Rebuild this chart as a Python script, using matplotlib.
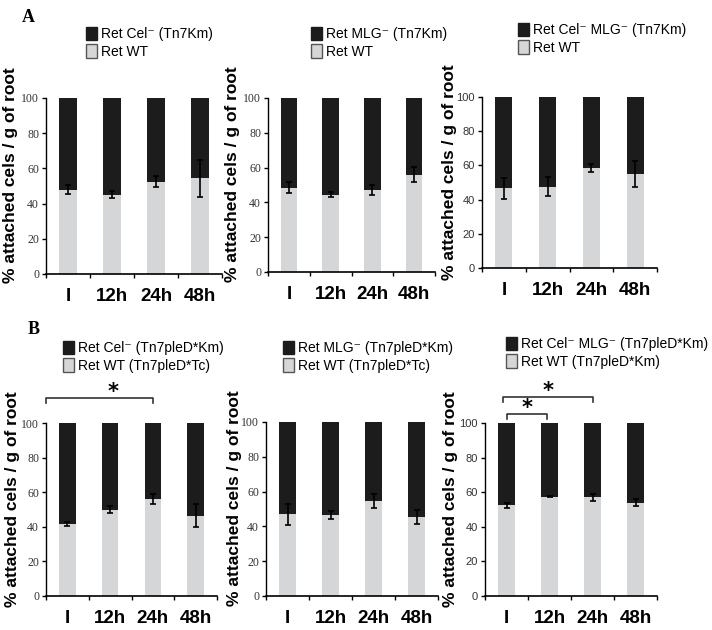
import numpy as np
import matplotlib
matplotlib.use("Agg")
import matplotlib.pyplot as plt
from matplotlib.patches import Patch
from matplotlib.font_manager import FontProperties

# time points
times = ["I", "12h", "24h", "48h"]
yticks = [0, 20, 40, 60, 80, 100]

# % of WT attached cells (light part of each bar) and its error, per panel
wt_a1 = [48, 45, 52.5, 54.5]
err_a1 = [2.5, 2, 3, 10.5]
wt_a2 = [48.5, 44.5, 47, 56]
err_a2 = [3, 1.5, 3, 4.5]
wt_a3 = [46.5, 47.5, 58.5, 55]
err_a3 = [6, 5.5, 2.5, 7.5]
wt_b1 = [41.5, 50, 56, 46.5]
err_b1 = [1, 2, 3, 6.5]
wt_b2 = [47, 46.5, 54.5, 45.5]
err_b2 = [6, 2.5, 4, 4]
wt_b3 = [52.5, 57.5, 57, 54]
err_b3 = [1.5, 0.5, 2, 2]

# legend texts
mut_labels = ["Ret Cel\u207b (Tn7Km)", "Ret MLG\u207b (Tn7Km)", "Ret Cel\u207b MLG\u207b (Tn7Km)",
              "Ret Cel\u207b (Tn7pleD*Km)", "Ret MLG\u207b (Tn7pleD*Km)",
              "Ret Cel\u207b MLG\u207b (Tn7pleD*Km)"]
wt_labels = ["Ret WT", "Ret WT", "Ret WT",
             "Ret WT (Tn7pleD*Tc)", "Ret WT (Tn7pleD*Tc)", "Ret WT (Tn7pleD*Km)"]

DARK = "#1c1c1c"
LIGHT = "#d4d6d8"
W, H = 712, 630
SANS = ["Liberation Sans", "DejaVu Sans"]

fig = plt.figure(figsize=(W / 100, H / 100), dpi=100)

# axes boxes in pixels: left, right, top(y=100), bottom(y=0)
boxes = [(46, 222, 98, 274), (268, 435, 98, 272), (482, 657, 97, 268),
         (46, 217, 423, 596), (266, 438, 422, 596), (485, 657, 423, 596)]
legend_pos = [(86, 27), (311, 27), (518, 23), (63, 341), (283, 341), (506, 337)]
ylabel_x = [18, 240, 457, 20, 242, 458]
wts = [wt_a1, wt_a2, wt_a3, wt_b1, wt_b2, wt_b3]
errs = [err_a1, err_a2, err_a3, err_b1, err_b2, err_b3]

axes = []
for i in range(6):
    l, r, t, b = boxes[i]
    ax = fig.add_axes([l / W, 1 - b / H, (r - l) / W, (b - t) / H])
    axes.append(ax)
    x = np.arange(len(times))
    wt = np.array(wts[i])
    ax.bar(x, wt, width=0.39, color=LIGHT, zorder=2)
    ax.bar(x, 100 - wt, bottom=wt, width=0.39, color=DARK, zorder=2)
    ax.errorbar(x, wt, yerr=errs[i], fmt="none", ecolor="black",
                elinewidth=1.2, capsize=2.2, capthick=1.2, zorder=3)
    ax.set_xlim(-0.5, 3.5)
    ax.set_ylim(0, 100)
    ax.set_xticks(x)
    ax.set_xticklabels(times, fontsize=13.5, fontweight="bold", family=SANS)
    ax.set_xticks(np.arange(-0.5, 4, 1), minor=True)
    ax.tick_params(axis="x", which="major", length=0, pad=10)
    ax.tick_params(axis="x", which="minor", length=3, width=1)
    ax.set_yticks(yticks)
    tickfont = FontProperties(family="Liberation Serif" if i % 3 != 2 else "Liberation Sans",
                              size=8.5 if i % 3 != 2 else 8)
    ax.set_yticklabels([str(v) for v in yticks], fontproperties=tickfont, color="#333333")
    ax.tick_params(axis="y", length=3, width=1, pad=2)
    for s in ["top", "right"]:
        ax.spines[s].set_visible(False)
    ax.spines["left"].set_linewidth(1)
    ax.spines["bottom"].set_linewidth(1.2)
    ax.set_ylabel("% attached cels / g of root", fontsize=12.5,
                  fontweight="bold", family=SANS)
    ax.yaxis.set_label_coords((ylabel_x[i] - l) / (r - l), 0.56)

    handles = [Patch(facecolor=DARK, edgecolor=DARK), Patch(facecolor=LIGHT, edgecolor="#555555")]
    lx, ly = legend_pos[i]
    fig.legend(handles, [mut_labels[i], wt_labels[i]], loc="upper left",
               bbox_to_anchor=(lx / W, 1 - ly / H), frameon=False,
               handlelength=0.8, handleheight=1.1, handletextpad=0.3,
               labelspacing=0.2, borderpad=0, borderaxespad=0,
               prop={"family": SANS, "size": 10})

# significance brackets (x from, x to, height) in data units
def bracket(ax, x0, x1, y, star_x):
    ax.plot([x0, x0, x1, x1], [y - 3, y, y, y - 3], color="#333333", lw=1.2, clip_on=False)
    ax.text(star_x, y - 2.5, "*", ha="center", va="bottom", fontsize=15,
            fontweight="bold", clip_on=False)

bracket(axes[3], -0.5, 2.0, 114.5, 1.07)
bracket(axes[5], -0.08, 2.0, 115, 0.96)
bracket(axes[5], 0.0, 0.95, 105.2, 0.48)

fig.text(22 / W, 1 - 22 / H, "A", fontsize=13, fontweight="bold", family="Liberation Serif")
fig.text(28 / W, 1 - 334 / H, "B", fontsize=13, fontweight="bold", family="Liberation Serif")

fig.savefig("out.png", dpi=100, facecolor="white")
